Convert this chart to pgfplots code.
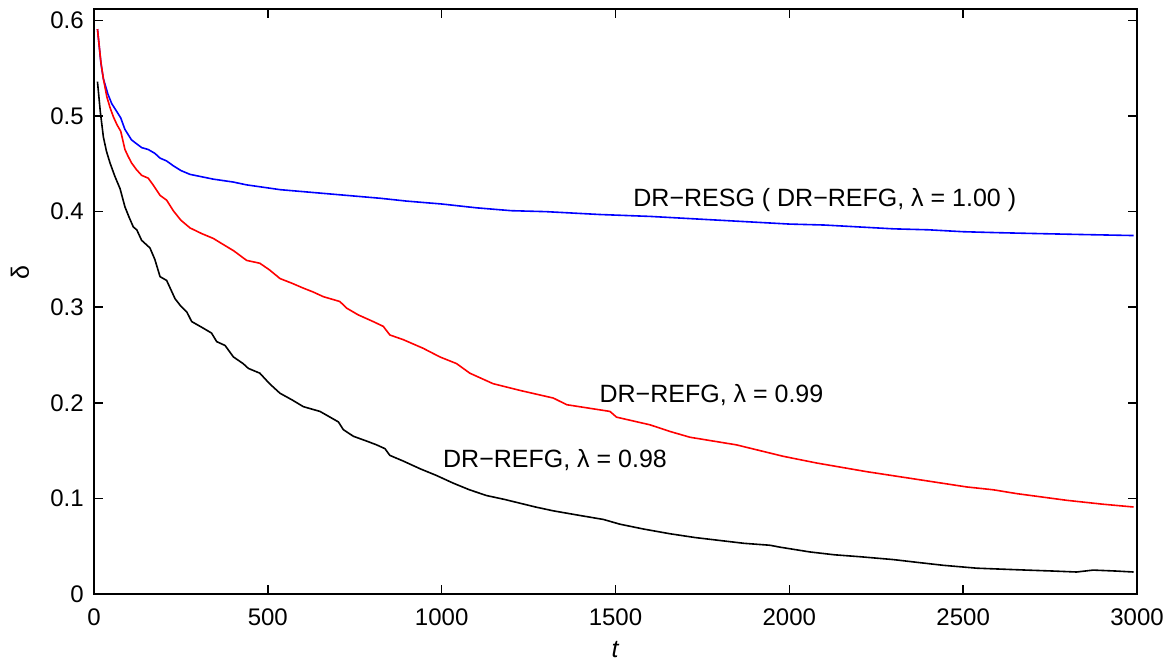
\documentclass[border=0pt]{standalone}
\usepackage{fontspec}
\setmainfont{Liberation Sans}
\usepackage{pgfplots}
\pgfplotsset{compat=1.18}
\begin{document}
\begin{tikzpicture}
\path[use as bounding box] (-47pt,-34pt) rectangle (539pt,297pt);
\begin{axis}[
  at={(0pt,0pt)}, anchor=south west,
  scale only axis, width=521.5pt, height=292.5pt,
  xmin=0, xmax=3000, ymin=0, ymax=0.612,
  xtick={0,500,1000,1500,2000,2500,3000},
  ytick={0,0.1,0.2,0.3,0.4,0.5,0.6},
  axis line style={line width=1pt},
  major tick style={line width=0.8pt, black},
  major tick length=4.5pt,
  tick align=inside,
  /pgf/number format/assume math mode=true,
  tick label style={font=\fontsize{12}{14}\selectfont},
  xticklabel style={/pgf/number format/1000 sep={}, yshift=-4pt},
  yticklabel style={/pgf/number format/fixed, /pgf/number format/precision=1, xshift=-1.6pt},
  xlabel={\textit{t}},
  xlabel style={at={(axis description cs:0.5,0)}, anchor=center, inner sep=0pt, yshift=-28pt, font=\fontsize{12.5}{14}\selectfont},
  ylabel={δ},
  ylabel style={at={(axis description cs:0,0.549)}, anchor=center, yshift=37pt, font=\fontsize{12.5}{14}\selectfont},
  every axis plot/.append style={line width=0.8pt},
]
\addplot[blue] coordinates {
(10,0.591)(20,0.555)(27,0.539)(40,0.523)(51,0.513)(65,0.505)(77,0.498)(89,0.486)(108,0.475)(137,0.467)(156,0.465)(175,0.461)(190,0.456)(209,0.453)(228,0.448)(250,0.443)(276,0.439)(343,0.434)(400,0.431)(439,0.428)(535,0.423)(631,0.420)(727,0.417)(823,0.414)(900,0.411)(1000,0.408)(1100,0.404)(1200,0.401)(1300,0.400)(1455,0.397)(1600,0.395)(1700,0.393)(1800,0.391)(1900,0.389)(2000,0.387)(2100,0.386)(2200,0.384)(2300,0.382)(2400,0.381)(2500,0.379)(2600,0.378)(2721,0.377)(2850,0.376)(2990,0.375)
};
\addplot[red] coordinates {
(10,0.591)(20,0.556)(27,0.539)(37,0.520)(46,0.509)(56,0.499)(66,0.491)(77,0.484)(89,0.465)(98,0.458)(108,0.451)(122,0.444)(137,0.438)(156,0.435)(170,0.428)(190,0.417)(209,0.412)(228,0.401)(250,0.391)(276,0.383)(310,0.377)(343,0.372)(370,0.366)(402,0.359)(439,0.349)(477,0.346)(505,0.339)(535,0.330)(570,0.325)(602,0.320)(630,0.316)(660,0.311)(707,0.306)(727,0.299)(760,0.292)(803,0.285)(832,0.280)(851,0.271)(890,0.266)(947,0.257)(995,0.248)(1043,0.241)(1081,0.231)(1148,0.220)(1225,0.213)(1321,0.205)(1360,0.198)(1484,0.191)(1503,0.185)(1599,0.177)(1657,0.170)(1714,0.164)(1848,0.156)(1983,0.144)(2079,0.137)(2222,0.128)(2366,0.120)(2510,0.112)(2587,0.109)(2654,0.105)(2798,0.098)(2900,0.094)(2990,0.091)
};
\addplot[black] coordinates {
(10,0.536)(18,0.505)(27,0.478)(36,0.463)(46,0.451)(60,0.437)(75,0.424)(89,0.405)(100,0.395)(113,0.384)(123,0.381)(137,0.370)(161,0.362)(175,0.350)(190,0.332)(209,0.328)(233,0.309)(250,0.301)(267,0.295)(281,0.285)(310,0.279)(338,0.273)(353,0.264)(377,0.260)(401,0.248)(429,0.241)(444,0.236)(477,0.231)(505,0.220)(535,0.210)(570,0.203)(602,0.196)(650,0.191)(679,0.185)(703,0.180)(717,0.172)(746,0.165)(784,0.160)(813,0.156)(837,0.152)(851,0.145)(890,0.139)(938,0.131)(985,0.124)(1033,0.116)(1080,0.109)(1129,0.103)(1180,0.099)(1225,0.095)(1270,0.091)(1321,0.087)(1400,0.082)(1465,0.078)(1513,0.073)(1580,0.068)(1657,0.063)(1730,0.059)(1800,0.056)(1870,0.053)(1944,0.051)(1973,0.049)(2059,0.044)(2130,0.041)(2203,0.039)(2299,0.036)(2370,0.033)(2443,0.030)(2539,0.027)(2610,0.026)(2682,0.025)(2760,0.024)(2826,0.023)(2874,0.025)(2940,0.024)(2990,0.023)
};
\node[font=\fontsize{12.5}{14}\selectfont] at (axis cs:2102,0.412) {DR−RESG ( DR−REFG, λ = 1.00 )};
\node[font=\fontsize{12.5}{14}\selectfont] at (axis cs:1776,0.208) {DR−REFG, λ = 0.99};
\node[font=\fontsize{12.5}{14}\selectfont] at (axis cs:1326,0.140) {DR−REFG, λ = 0.98};
\end{axis}
\end{tikzpicture}
\end{document}
